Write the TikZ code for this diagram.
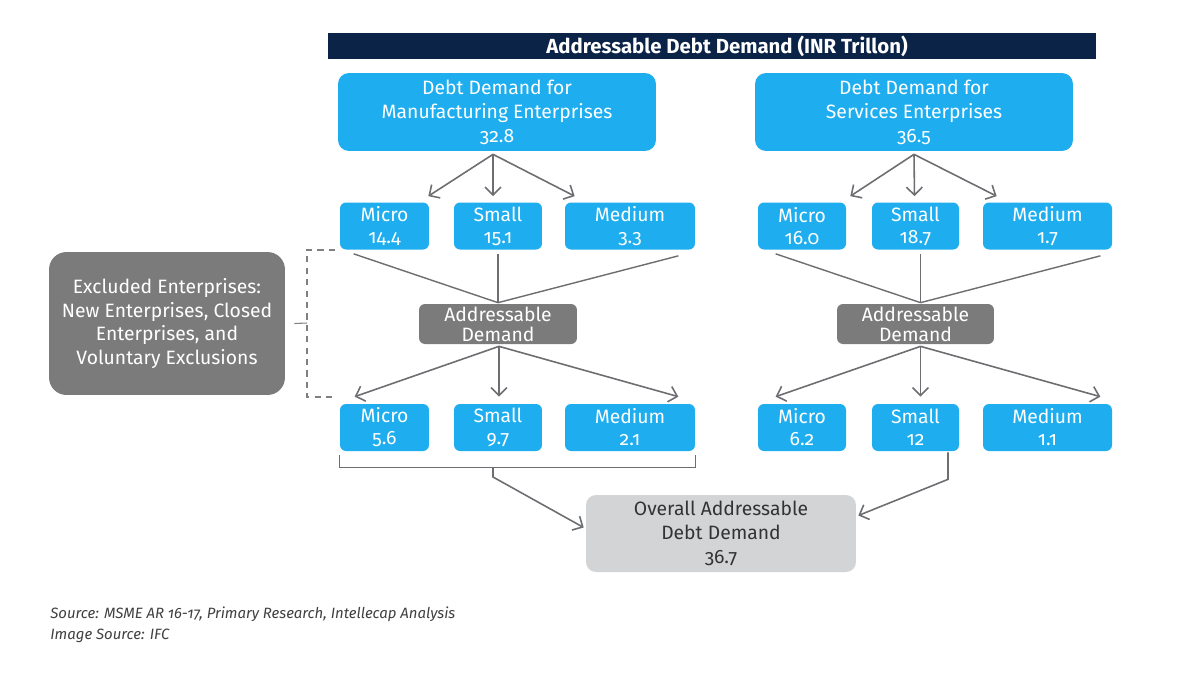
\documentclass[tikz,border=0pt]{standalone}
\usepackage{fontspec}
\setmainfont{Fira Sans}[RawFeature=+onum]
\usetikzlibrary{arrows.meta,calc}
\definecolor{navy}{HTML}{0B2347}
\definecolor{skyblue}{HTML}{1EAEEF}
\definecolor{midgray}{HTML}{7B7B7B}
\definecolor{palegray}{HTML}{D3D4D6}
\definecolor{linegray}{HTML}{6D6E71}
\begin{document}
\begin{tikzpicture}[x=0.02cm, y=-0.02cm]
    \tikzset{
      box/.style={fill=skyblue, text=white, rounded corners=0.12cm, align=center, inner sep=0pt,
                  font=\fontsize{11}{12.5}\selectfont},
      bigbox/.style={box, minimum width=6.36cm, minimum height=1.56cm, rounded corners=0.22cm,
                     font=\fontsize{11}{13.6}\selectfont},
      grey/.style={fill=midgray, text=white, rounded corners=0.12cm, align=center, inner sep=0pt,
                   font=\fontsize{11}{11.5}\selectfont},
      arr/.style={draw=linegray, line width=0.9pt, -{Straight Barb[length=4.5pt,width=9pt]}},
      ln/.style={draw=linegray, line width=0.8pt}
    }
    \useasboundingbox[fill=white] (0,0) rectangle (1200,677);
    % title
    \node[fill=navy, text=white, minimum width=15.36cm, minimum height=0.52cm, inner sep=0pt,
          font=\bfseries\fontsize{11.6}{12}\selectfont] (head) at (712,46) {\hspace*{0.6cm}Addressable Debt Demand (INR Trillon)};
    % sectors
    \node[bigbox] (mfg) at (497,112) {Debt Demand for\\Manufacturing Enterprises\\32.8};
    \node[bigbox] (svc) at (914,112) {Debt Demand for\\Services Enterprises\\36.5};
    % first row
    \node[box, minimum width=1.78cm, minimum height=0.94cm] (mmi) at (384.5,226) {Micro\\14.4};
    \node[box, minimum width=1.76cm, minimum height=0.94cm] (msm) at (498,226) {Small\\15.1};
    \node[box, minimum width=2.6cm, minimum height=0.94cm] (mme) at (630,226) {Medium\\3.3};
    \node[box, minimum width=1.76cm, minimum height=0.94cm] (smi) at (802,226) {Micro\\16.0};
    \node[box, minimum width=1.74cm, minimum height=0.94cm] (ssm) at (915.5,226) {Small\\18.7};
    \node[box, minimum width=2.58cm, minimum height=0.94cm] (sme) at (1047.5,226) {Medium\\1.7};
    % addressable
    \node[grey, minimum width=3.16cm, minimum height=0.8cm] (mad) at (498,324) {Addressable\\Demand};
    \node[grey, minimum width=3.14cm, minimum height=0.8cm] (sad) at (915.5,324) {Addressable\\Demand};
    % second row
    \node[box, minimum width=1.78cm, minimum height=0.94cm] (mmi2) at (384.5,427.5) {Micro\\5.6};
    \node[box, minimum width=1.76cm, minimum height=0.94cm] (msm2) at (498,427.5) {Small\\9.7};
    \node[box, minimum width=2.6cm, minimum height=0.94cm] (mme2) at (630,427.5) {Medium\\2.1};
    \node[box, minimum width=1.76cm, minimum height=0.94cm] (smi2) at (802,427.5) {Micro\\6.2};
    \node[box, minimum width=1.74cm, minimum height=0.94cm] (ssm2) at (915.5,427.5) {Small\\12};
    \node[box, minimum width=2.58cm, minimum height=0.94cm] (sme2) at (1047.5,427.5) {Medium\\1.1};
    % excluded and overall
    \node[grey, minimum width=4.72cm, minimum height=2.86cm, rounded corners=0.35cm,
          font=\fontsize{11}{13.6}\selectfont] (exc) at (167,323.5)
          {Excluded Enterprises:\\New Enterprises, Closed\\Enterprises, and\\Voluntary Exclusions};
    \node[fill=palegray, text=black!80, rounded corners=0.2cm, align=center, inner sep=0pt,
          minimum width=5.4cm, minimum height=1.54cm, font=\fontsize{11}{13.6}\selectfont] (ovr) at (721,533.5)
          {Overall Addressable\\Debt Demand\\36.7};
    % arrows to first row
    \draw[arr] ($(mfg.south)+(-4,3)$) -- ($(mmi.north east)+(-1,-6)$);
    \draw[arr] ($(mfg.south)+(-4,3)$) -- ($(msm.north)+(-5,-6)$);
    \draw[arr] ($(mfg.south)+(-4,3)$) -- ($(mme.north west)+(10,-6)$);
    \draw[arr] ($(svc.south)+(0,3)$) -- ($(smi.north east)+(4,-6)$);
    \draw[arr] ($(svc.south)+(0,3)$) -- ($(ssm.north)+(-1,-6)$);
    \draw[arr] ($(svc.south)+(0,3)$) -- ($(sme.north west)+(14,-6)$);
    % lines into addressable
    \draw[ln] ($(mmi.south west)+(14,4)$) -- ($(mad.north)+(0,-1)$);
    \draw[ln] ($(msm.south)+(0,4)$) -- ($(mad.north)+(0,-1)$);
    \draw[ln] ($(mme.south east)+(-17,6)$) -- ($(mad.north)+(0,-1)$);
    \draw[ln] ($(smi.south west)+(18,4)$) -- ($(sad.north)+(5,-1)$);
    \draw[ln] ($(ssm.south)+(5,4)$) -- ($(sad.north)+(5,-1)$);
    \draw[ln] ($(sme.south east)+(-12,6)$) -- ($(sad.north)+(5,-1)$);
    % arrows to second row
    \draw[arr] ($(mad.south)+(1,2)$) -- ($(mmi2.north west)+(15,-7)$);
    \draw[arr] ($(mad.south)+(1,2)$) -- ($(msm2.north)+(1,-7)$);
    \draw[arr] ($(mad.south)+(1,2)$) -- ($(mme2.north east)+(-17,-7)$);
    \draw[arr] ($(sad.south)+(5,2)$) -- ($(smi2.north west)+(18,-7)$);
    \draw[arr] ($(sad.south)+(5,2)$) -- ($(ssm2.north)+(5,-7)$);
    \draw[arr] ($(sad.south)+(5,2)$) -- ($(sme2.north east)+(-12,-7)$);
    % bracket and overall
    \coordinate (brl) at ($(mmi2.south west)+(0,4)$);
    \coordinate (brr) at ($(mme2.south east)+(0,4)$);
    \coordinate (stub) at (493,467);
    \draw[ln] (brl) -- ($(brl)+(0,12)$) -| (brr);
    \draw[arr] (stub) -- ($(stub)+(0,10)$) -- ($(ovr.west)+(-2,-6)$);
    \draw[arr] ($(ssm2.south)+(32.5,1)$) -- ($(ssm2.south)+(32.5,28)$) -- ($(ovr.east)+(2,-18)$);
    % exclusions
    \coordinate (dtop) at (335,250);
    \coordinate (dbot) at (335,397);
    \coordinate (dmid) at (307,323);
    \draw[draw=gray, line width=0.6pt, dash pattern=on 3.5pt off 3pt] (dtop) -| (dbot -| dmid) -- (dbot);
    \draw[draw=gray, line width=0.6pt] ($(exc.east)+(9,0)$) -- (dmid);
    % source
    \node[anchor=west, inner sep=0pt, text=black!75, font=\itshape\fontsize{8.5}{10}\selectfont] (src) at (50,614)
          {Source: MSME AR 16-17, Primary Research, Intellecap Analysis};
    \node[anchor=west, inner sep=0pt, text=black!75, font=\itshape\fontsize{8.5}{10}\selectfont] (img) at (50,636)
          {Image Source: IFC};
\end{tikzpicture}
\end{document}
